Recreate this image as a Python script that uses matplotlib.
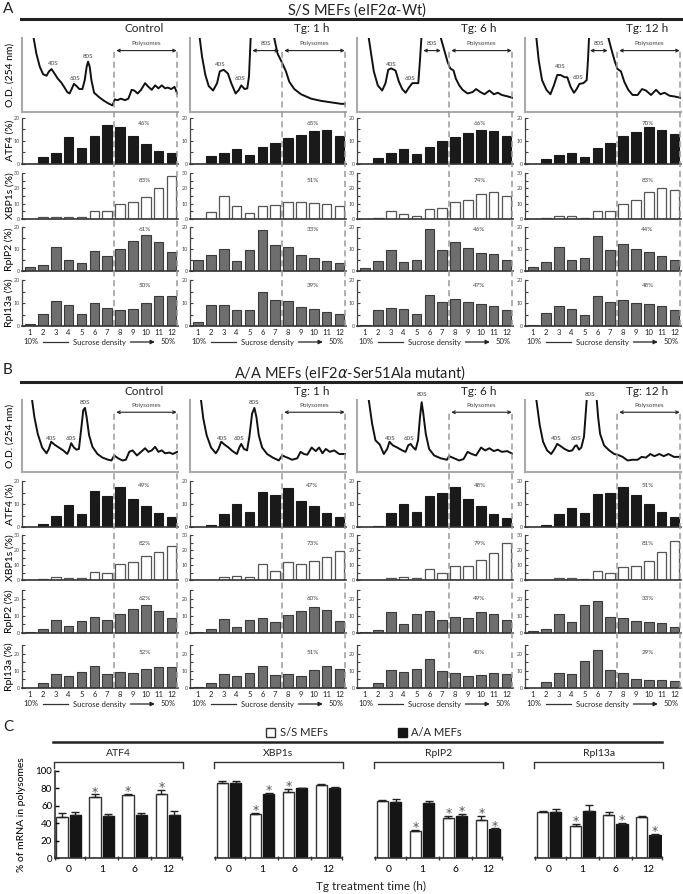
import matplotlib
matplotlib.use("Agg")
import matplotlib.pyplot as plt
import matplotlib.transforms as mtransforms
from matplotlib.lines import Line2D
from matplotlib.patches import Patch
from matplotlib.ticker import MultipleLocator
import numpy as np

plt.rcParams['font.family'] = ['Lato', 'DejaVu Sans']
plt.rcParams['mathtext.fontset'] = 'dejavusans'
plt.rcParams['text.color'] = '#222222'

W, H = 683, 894

# ---------------- data: panels A / B ----------------
fractions = np.arange(1, 13)
conditions = ["Control", "Tg: 1 h", "Tg: 6 h", "Tg: 12 h"]
genes = ["ATF4", "XBP1s", "RplP2", "Rpl13a"]

# S/S MEFs (% of mRNA per fraction)
ss_atf4 = [[0, 2.7, 4.4, 11.6, 6.6, 12.3, 16.8, 15.9, 12.0, 8.5, 5.6, 4.5],
           [0, 3.3, 4.8, 6.2, 3.9, 7.1, 9.0, 11.3, 12.6, 14.3, 14.6, 11.9],
           [0, 2.5, 4.7, 6.5, 4.1, 7.2, 10.0, 11.6, 13.2, 14.9, 14.1, 12.2],
           [0, 1.8, 3.8, 4.7, 2.8, 6.9, 9.0, 12.2, 13.8, 15.9, 14.9, 12.8]]
ss_xbp1s = [[0, 1.0, 1.5, 1.5, 1.0, 5.5, 5.0, 9.5, 11.0, 14.5, 20.0, 28.0],
            [0, 4.5, 14.7, 8.3, 3.6, 8.3, 8.9, 11.0, 10.9, 10.4, 9.8, 8.3],
            [0, 0.9, 5.3, 3.3, 1.8, 6.7, 7.3, 11.3, 12.7, 16.2, 17.6, 15.3],
            [0, 0.4, 2.0, 1.8, 0.9, 5.3, 5.1, 10.0, 12.6, 17.3, 20.5, 19.0]]
ss_rplp2 = [[1.7, 2.7, 10.8, 4.9, 3.7, 9.2, 7.0, 10.2, 13.7, 16.5, 13.4, 8.7],
            [5.0, 7.3, 9.9, 4.6, 9.5, 18.5, 11.9, 10.7, 7.3, 6.0, 4.7, 3.5],
            [1.2, 4.4, 9.6, 4.0, 5.0, 19.2, 9.6, 13.1, 10.4, 8.4, 7.8, 5.2],
            [2.0, 4.3, 10.8, 5.0, 6.1, 16.0, 9.6, 12.2, 9.9, 8.7, 6.9, 5.0]]
ss_rpl13a = [[1.0, 5.4, 10.8, 9.3, 5.3, 10.2, 8.0, 6.9, 7.3, 9.8, 13.0, 13.0],
             [1.8, 9.1, 9.1, 6.9, 6.9, 14.6, 11.2, 11.0, 8.3, 7.3, 6.0, 5.3],
             [0.6, 6.9, 7.8, 7.3, 5.1, 13.6, 10.4, 11.8, 10.4, 9.7, 8.8, 7.0],
             [0.6, 5.8, 8.5, 7.5, 4.9, 13.0, 10.6, 11.5, 9.9, 9.6, 8.5, 6.9]]
ss_pct_atf4 = [46, 65, 66, 70]
ss_pct_xbp1s = [83, 51, 74, 83]
ss_pct_rplp2 = [61, 33, 46, 44]
ss_pct_rpl13a = [50, 39, 47, 48]

# A/A MEFs
aa_atf4 = [[0, 1.2, 5.0, 9.4, 5.8, 15.8, 13.3, 17.3, 12.0, 9.1, 5.9, 4.4],
           [0, 1.0, 5.8, 9.8, 6.7, 15.3, 13.8, 17.0, 11.2, 9.0, 6.0, 4.2],
           [0, 0.6, 6.0, 9.9, 6.6, 13.6, 14.8, 17.3, 12.1, 9.3, 5.8, 3.7],
           [0, 1.0, 5.7, 8.4, 6.0, 14.3, 14.8, 17.6, 13.9, 10.1, 6.4, 4.3]]
aa_xbp1s = [[0, 0.7, 1.9, 1.4, 1.2, 5.6, 4.5, 10.4, 12.0, 16.3, 19.0, 22.6],
            [0, 0.3, 2.3, 2.9, 2.0, 11.0, 6.1, 12.2, 11.0, 12.9, 15.6, 19.2],
            [0, 0.2, 1.4, 2.0, 1.1, 7.2, 5.0, 9.5, 9.5, 13.1, 18.3, 25.0],
            [0, 0.3, 1.6, 1.4, 0.7, 6.1, 5.0, 9.0, 9.5, 12.9, 19.0, 25.7]]
aa_rplp2 = [[0.8, 2.5, 7.6, 4.2, 6.9, 9.3, 7.8, 11.0, 14.1, 16.0, 12.8, 8.8],
            [0.8, 2.3, 8.0, 3.6, 7.4, 9.0, 6.5, 10.7, 13.0, 15.2, 13.1, 7.2],
            [0.8, 2.0, 12.0, 5.3, 11.0, 12.9, 7.6, 9.4, 9.0, 12.2, 11.0, 7.5],
            [1.2, 2.6, 10.8, 6.5, 16.5, 18.8, 9.2, 8.6, 7.0, 6.3, 6.0, 3.6]]
aa_rpl13a = [[0, 2.9, 8.0, 7.0, 9.1, 12.8, 8.2, 9.3, 8.8, 11.0, 12.4, 12.0],
             [0.3, 2.9, 8.4, 6.9, 8.6, 13.0, 7.4, 8.2, 7.2, 10.5, 13.0, 11.2],
             [0, 2.9, 10.3, 9.3, 11.0, 16.7, 9.7, 8.9, 6.8, 7.4, 8.9, 8.3],
             [0, 3.3, 8.5, 8.0, 15.9, 22.1, 10.5, 8.5, 5.4, 4.7, 4.6, 3.8]]
aa_pct_atf4 = [49, 47, 48, 51]
aa_pct_xbp1s = [82, 73, 79, 81]
aa_pct_rplp2 = [62, 60, 49, 33]
aa_pct_rpl13a = [52, 51, 40, 29]

# O.D. 254 nm profiles (position along gradient in fraction units, relative absorbance)
ss_od_pos = [
    [1.2, 1.29, 1.49, 1.76, 2.02, 2.28, 2.48, 2.67, 2.9, 3.16, 3.42, 3.68, 3.89, 4.07, 4.26, 4.41, 4.62,
     4.83, 5.07, 5.25, 5.4, 5.51, 5.64, 5.77, 5.98, 6.37, 6.76, 7.15, 7.41, 7.59, 7.8, 8.06, 8.38, 8.64,
     8.9, 9.1, 9.37, 9.63, 9.94, 10.2, 10.46, 10.72, 10.98, 11.24, 11.5, 11.71, 11.97, 12.23, 12.44],
    [1.05, 1.13, 1.31, 1.57, 1.83, 2.17, 2.48, 2.69, 3.0, 3.32, 3.58, 3.92, 4.18, 4.36, 4.62, 4.83, 4.96,
     5.09, 5.2, 6.8, 6.92, 7.18, 7.49, 7.83, 8.09, 8.48, 9.0, 9.79, 10.57, 11.35, 12.13, 12.5],
    [1.2, 1.29, 1.47, 1.68, 1.99, 2.33, 2.59, 2.8, 3.03, 3.37, 3.63, 3.89, 4.15, 4.41, 4.67, 4.93, 5.14,
     5.27, 5.38, 5.5, 6.75, 6.89, 7.15, 7.41, 7.62, 7.88, 8.06, 8.32, 8.58, 8.97, 9.37, 9.63, 9.96, 10.28,
     10.67, 11.01, 11.32, 11.63, 12.1, 12.5],
    [1.15, 1.26, 1.44, 1.7, 2.04, 2.35, 2.62, 2.88, 3.14, 3.45, 3.66, 3.92, 4.18, 4.39, 4.6, 4.91, 5.17,
     5.27, 5.35, 5.45, 6.75, 6.86, 7.1, 7.36, 7.57, 7.83, 8.09, 8.4, 8.74, 9.13, 9.47, 9.78, 10.17, 10.56,
     10.9, 11.22, 11.61, 12.0, 12.5]]
ss_od_val = [
    [110, 99, 79, 61, 51, 49, 55, 58, 52, 45, 40, 33, 27, 25, 32, 38, 35, 31, 31, 43, 61, 68, 61, 43, 26,
     20, 15, 11, 9, 17, 16, 18, 16, 18, 30, 29, 25, 30, 39, 34, 30, 36, 32, 36, 32, 33, 31, 34, 25],
    [110, 100, 75, 50, 35, 29, 39, 55, 57, 52, 39, 25, 30, 36, 31, 32, 48, 100, 130, 130, 100, 79, 68, 55,
     41, 31, 24, 18, 15, 13, 11, 11],
    [110, 100, 79, 55, 36, 29, 39, 57, 59, 56, 41, 31, 26, 33, 39, 39, 39, 70, 100, 130, 130, 100, 84, 68,
     59, 56, 45, 36, 30, 25, 27, 31, 27, 24, 29, 24, 26, 23, 21, 19],
    [110, 100, 70, 43, 30, 24, 36, 50, 50, 47, 47, 34, 26, 31, 38, 39, 43, 70, 100, 130, 130, 100, 84, 68,
     58, 55, 41, 30, 23, 23, 31, 29, 23, 30, 24, 26, 22, 21, 19]]
aa_od_pos = [
    [1.1, 1.16, 1.34, 1.6, 1.94, 2.28, 2.46, 2.64, 2.9, 3.24, 3.58, 3.89, 4.02, 4.2, 4.41, 4.62, 4.8, 4.99,
     5.14, 5.27, 5.4, 5.59, 5.85, 6.24, 6.63, 7.07, 7.33, 7.54, 7.85, 8.19, 8.45, 8.71, 8.97, 9.31, 9.63,
     9.94, 10.2, 10.46, 10.72, 10.98, 11.24, 11.5, 11.84, 12.1, 12.44],
    [1.15, 1.23, 1.41, 1.67, 2.01, 2.38, 2.59, 2.8, 3.06, 3.37, 3.68, 4.02, 4.21, 4.36, 4.57, 4.81, 4.99,
     5.2, 5.38, 5.54, 5.72, 5.98, 6.37, 6.81, 7.28, 7.54, 7.93, 8.32, 8.71, 8.97, 9.23, 9.49, 9.83, 10.15,
     10.41, 10.67, 10.93, 11.24, 11.58, 11.97, 12.49],
    [1.2, 1.29, 1.55, 1.81, 2.15, 2.46, 2.72, 2.9, 3.16, 3.5, 3.89, 4.15, 4.36, 4.54, 4.75, 4.93, 5.12,
     5.27, 5.4, 5.53, 5.72, 5.98, 6.37, 6.89, 7.36, 7.54, 7.93, 8.32, 8.66, 8.97, 9.29, 9.63, 10.02, 10.33,
     10.67, 11.01, 11.32, 11.63, 12.05, 12.49],
    [1.15, 1.26, 1.52, 1.78, 2.09, 2.41, 2.67, 2.88, 3.14, 3.45, 3.79, 4.05, 4.26, 4.39, 4.57, 4.75, 4.96,
     5.17, 5.3, 5.85, 5.95, 6.06, 6.21, 6.52, 6.92, 7.31, 7.57, 7.96, 8.35, 8.74, 9.13, 9.44, 9.78, 10.12,
     10.43, 10.82, 11.16, 11.53, 11.95, 12.39, 12.5]]
aa_od_val = [
    [110, 100, 76, 53, 34, 26, 32, 42, 38, 34, 30, 25, 30, 40, 34, 31, 32, 62, 86, 89, 76, 51, 35, 25, 20,
     17, 16, 23, 19, 16, 17, 28, 30, 23, 28, 33, 28, 30, 35, 28, 30, 26, 27, 25, 28],
    [110, 100, 74, 51, 34, 26, 32, 42, 38, 34, 29, 25, 34, 39, 32, 30, 49, 81, 89, 76, 51, 34, 25, 20, 16,
     23, 20, 17, 19, 28, 25, 24, 34, 29, 34, 26, 32, 28, 30, 25, 25],
    [110, 100, 67, 44, 38, 25, 32, 42, 37, 34, 30, 28, 37, 39, 34, 31, 44, 76, 97, 81, 53, 32, 23, 19, 17,
     22, 19, 16, 18, 28, 25, 23, 34, 30, 33, 29, 31, 28, 29, 25],
    [110, 100, 65, 42, 30, 25, 32, 39, 36, 32, 29, 30, 36, 37, 31, 34, 49, 100, 130, 130, 100, 76, 53, 37,
     30, 25, 24, 21, 16, 17, 17, 21, 20, 25, 22, 25, 22, 25, 21, 21, 21]]

# peak labels (name, position, height) and 80S arrow spans
ss_peaks = [[("40S", 2.8, 66), ("60S", 4.47, 45), ("80S", 5.51, 75)],
            [("40S", 2.72, 64), ("60S", 4.26, 45)],
            [("40S", 3.06, 64), ("60S", 4.49, 45)],
            [("40S", 3.14, 61), ("60S", 4.52, 46)]]
ss_80s_span = [None, (5.22, 7.3), (5.53, 6.89), (5.43, 6.8)]
aa_peaks = [[("40S", 2.64, 46), ("60S", 4.2, 46), ("80S", 5.27, 96)],
            [("40S", 2.85, 46), ("60S", 4.21, 46), ("80S", 5.33, 96)],
            [("40S", 2.98, 47), ("60S", 4.41, 47), ("80S", 5.4, 107)],
            [("40S", 2.82, 47), ("60S", 4.31, 47), ("80S", 5.43, 107)]]
aa_80s_span = [None, None, None, None]

# ---------------- data: panel C ----------------
c_groups = ["ATF4", "XBP1s", "RplP2", "Rpl13a"]
c_times = ["0", "1", "6", "12"]
c_ss_mean = [[47, 70, 72, 73], [86, 51, 76, 84], [65, 31, 46, 44], [53, 37, 50, 47]]
c_ss_err = [[4.5, 3, 2, 5.5], [2.5, 1, 3.5, 1], [2, 1.5, 2.7, 4.6], [1, 2.3, 2.7, 1.5]]
c_aa_mean = [[49.5, 48, 49, 49.5], [86, 74, 80, 80.5], [64, 63, 48, 33], [53, 54, 39, 26]]
c_aa_err = [[3, 2.3, 3, 4.6], [3, 1, 1, 1], [3.8, 2.7, 3, 1], [3.4, 7, 1.2, 2]]
c_ss_star = [[0, 1, 1, 1], [0, 1, 1, 0], [0, 1, 1, 1], [0, 1, 0, 0]]
c_aa_star = [[0, 0, 0, 0], [0, 1, 0, 0], [0, 0, 1, 1], [0, 0, 1, 1]]

# ---------------- figure ----------------
fig = plt.figure(figsize=(W / 100, H / 100), dpi=100)


def add_ax(left, top, right, bottom):
    return fig.add_axes([left / W, 1 - bottom / H, (right - left) / W, (bottom - top) / H])


def fig_text(x, y, s, **kw):
    return fig.text(x / W, 1 - y / H, s, **kw)


def fig_hline(x0, x1, y, **kw):
    fig.add_artist(Line2D([x0 / W, x1 / W], [1 - y / H] * 2, transform=fig.transFigure, **kw))


col_left = [22, 190, 357, 525]
col_w = 156
x_lo, x_hi = 0.375, 12.5
poly_start, poly_end = 7.55, 12.45
bar_styles = [dict(facecolor='#1a1a1a', edgecolor='#1a1a1a', linewidth=0.8),
              dict(facecolor='white', edgecolor='#555555', linewidth=0.9),
              dict(facecolor='#6e6e6e', edgecolor='#3a3a3a', linewidth=0.8),
              dict(facecolor='#6e6e6e', edgecolor='#3a3a3a', linewidth=0.8)]
small = dict(fontsize=4.5, color='#444444', ha='center', va='center')


def draw_block(prof_px, rows_px, ylims, pct_y, od_pos, od_val, peaks, spans80, bars, pcts, title_y):
    arrow_kw = dict(arrowstyle='<->', color='#222222', lw=0.8, shrinkA=0, shrinkB=0, mutation_scale=5)
    for c in range(4):
        left = col_left[c]
        right = left + col_w
        fig_text(left + 122, title_y, conditions[c], ha='center', va='center', fontsize=8.5)

        axp = add_ax(left, prof_px[0], right, prof_px[1])
        axp.plot(od_pos[c], od_val[c], color='#111111', lw=1.4, solid_joinstyle='round')
        axp.set_xlim(x_lo, x_hi)
        axp.set_ylim(0, 100)
        axp.set_xticks([])
        axp.set_yticks([])
        axp.spines[['top', 'right']].set_visible(False)
        for s in ('left', 'bottom'):
            axp.spines[s].set_color('#aaaaaa')
            axp.spines[s].set_linewidth(1.5)
        for name, px, py in peaks[c]:
            axp.text(px, py, name, **small)
        axp.annotate('', xy=(12.4, 83), xytext=(7.7, 83), arrowprops=arrow_kw, annotation_clip=False)
        axp.text(10.05, 92, 'Polysomes', **small)
        if spans80[c] is not None:
            a0, a1 = spans80[c]
            axp.annotate('', xy=(a1, 83), xytext=(a0, 83), arrowprops=arrow_kw, annotation_clip=False)
            axp.text((a0 + a1) / 2, 93, '80S', **small)
        if c == 0:
            axp.set_ylabel('O.D. (254 nm)', fontsize=7.5)
            axp.yaxis.set_label_coords(-0.05, 0.5)

        last = None
        for r in range(4):
            ax = add_ax(left, rows_px[r][0], right, rows_px[r][1])
            ax.bar(fractions, bars[r][c], width=0.74, **bar_styles[r])
            ax.set_xlim(x_lo, x_hi)
            ax.set_ylim(0, ylims[r])
            ax.spines[['top', 'right']].set_visible(False)
            ax.spines['left'].set_color('#444444')
            ax.spines['left'].set_linewidth(0.9)
            ax.spines['bottom'].set_color('#333333')
            ax.spines['bottom'].set_linewidth(1.2)
            ax.set_yticks(np.arange(0, ylims[r] + 1, 10))
            ax.yaxis.set_minor_locator(MultipleLocator(5))
            ax.tick_params(axis='y', which='both', direction='in', length=2.5, width=0.8,
                           colors='#444444', labelsize=3.8, pad=1.5)
            ax.tick_params(axis='y', which='minor', length=2)
            bt = mtransforms.blended_transform_factory(ax.transData, ax.transAxes)
            ax.text(9.9, pct_y[r], f"{pcts[r][c]}%", transform=bt, **small)
            if c == 0:
                ax.set_ylabel(f"{genes[r]} (%)", fontsize=7.5)
                ax.yaxis.set_label_coords(-0.05, 0.5)
            if r < 3:
                ax.set_xticks([])
            else:
                ax.set_xticks(fractions)
                ax.tick_params(axis='x', length=0, labelsize=5.5, pad=2, colors='#222222')
                yy = -16 / (rows_px[r][1] - rows_px[r][0])
                txt = dict(transform=bt, ha='center', va='center', fontsize=5.5)
                ax.text(1.08, yy, '10%', **txt)
                ax.plot([2.0, 3.95], [yy, yy], transform=bt, color='#333333', lw=0.9, clip_on=False)
                ax.text(6.4, yy, 'Sucrose density', **txt)
                ax.annotate('', xy=(10.7, yy), xytext=(8.8, yy), xycoords=bt,
                            arrowprops=dict(arrowstyle='-|>', color='#222222', lw=0.9,
                                            mutation_scale=6, shrinkA=0, shrinkB=0))
                ax.text(11.76, yy, '50%', **txt)
            last = ax

        blend = mtransforms.blended_transform_factory(axp.transData, fig.transFigure)
        pp = axp.get_position()
        y_top = pp.y0 + 0.83 * pp.height
        y_bot = last.get_position().y0
        for xd in (poly_start, poly_end):
            fig.add_artist(Line2D([xd, xd], [y_bot, y_top], transform=blend, ls=(0, (4, 2.5)),
                                  color='#9a9a9a', lw=1.1))


# panel A
fig_text(3, 9, 'A', fontsize=11, ha='left', va='center')
fig_text(357, 10, 'S/S MEFs (eIF2$\\alpha$-Wt)', fontsize=10.5, ha='center', va='center')
fig_hline(21, 683, 19, color='#222222', lw=2.2)
draw_block((38, 112), [(118, 163.5), (173, 219), (227, 271), (280, 326)], [20, 30, 20, 20],
           [0.89, 0.83, 0.95, 0.89], ss_od_pos, ss_od_val, ss_peaks, ss_80s_span,
           [ss_atf4, ss_xbp1s, ss_rplp2, ss_rpl13a],
           [ss_pct_atf4, ss_pct_xbp1s, ss_pct_rplp2, ss_pct_rpl13a], 29)

# panel B
fig_text(3, 370, 'B', fontsize=11, ha='left', va='center')
fig_text(350, 373, 'A/A MEFs (eIF2$\\alpha$-Ser51Ala mutant)', fontsize=10.5, ha='center', va='center')
fig_hline(21, 683, 382, color='#222222', lw=2.2)
draw_block((400, 472), [(481, 527), (535, 580), (590, 633), (645, 688)], [20, 30, 25, 25],
           [0.91, 0.82, 0.81, 0.82], aa_od_pos, aa_od_val, aa_peaks, aa_80s_span,
           [aa_atf4, aa_xbp1s, aa_rplp2, aa_rpl13a],
           [aa_pct_atf4, aa_pct_xbp1s, aa_pct_rplp2, aa_pct_rpl13a], 392)

# panel C
fig_text(3, 727, 'C', fontsize=11, ha='left', va='center')
fig_hline(53, 662, 742, color='#222222', lw=1.8)
axc = add_ax(55, 771, 662, 858)
gap = 4.85
bw = 0.35
star_kw = dict(ha='center', va='baseline', fontsize=9, color='#555555', family='DejaVu Sans')
for g in range(4):
    xs = np.arange(4) + g * gap
    axc.bar(xs - 0.2, c_ss_mean[g], width=bw, facecolor='white', edgecolor='#333333', lw=1)
    axc.bar(xs + 0.2, c_aa_mean[g], width=bw, facecolor='#151515', edgecolor='#151515', lw=1)
    axc.errorbar(xs - 0.2, c_ss_mean[g], yerr=[np.zeros(4), c_ss_err[g]], fmt='none',
                 ecolor='#222222', elinewidth=1, capsize=3, capthick=1)
    axc.errorbar(xs + 0.2, c_aa_mean[g], yerr=[np.zeros(4), c_aa_err[g]], fmt='none',
                 ecolor='#222222', elinewidth=1, capsize=3, capthick=1)
    for i in range(4):
        if c_ss_star[g][i]:
            axc.text(xs[i] - 0.2, c_ss_mean[g][i] + c_ss_err[g][i] - 1.5, '*', **star_kw)
        if c_aa_star[g][i]:
            axc.text(xs[i] + 0.2, c_aa_mean[g][i] + c_aa_err[g][i] - 1.5, '*', **star_kw)
    # broken x axis segment with small ticks
    x0, x1 = g * gap - 0.42, g * gap + 3.42
    axc.plot([x0, x1], [0, 0], color='#333333', lw=1.2, clip_on=False)
    axc.plot(g * gap + np.array([-0.42, 0.5, 1.5, 2.5, 3.42]), np.zeros(5), ls='none', marker='|',
             ms=3, mew=1, color='#333333', clip_on=False)
    # bracket and group name
    bl = mtransforms.blended_transform_factory(axc.transData, fig.transFigure)
    yt, yb = 1 - 762 / H, 1 - 768 / H
    fig.add_artist(Line2D([g * gap - 0.45, g * gap - 0.45, g * gap + 3.45, g * gap + 3.45],
                          [yb, yt, yt, yb], transform=bl, color='#333333', lw=1))
    axc.text(g * gap + 1.5, 1 - 754 / H, c_groups[g], transform=bl, ha='center', va='center',
             fontsize=7.5)

axc.set_xlim(-0.42, 3 * gap + 3.42)
axc.set_ylim(0, 100)
axc.set_xticks([g * gap + i for g in range(4) for i in range(4)])
axc.set_xticklabels(c_times * 4)
axc.tick_params(axis='x', length=0, pad=5, labelsize=7.5)
axc.set_yticks(np.arange(0, 101, 20))
axc.tick_params(axis='y', direction='in', length=3, width=1, labelsize=7, pad=2)
axc.spines[['top', 'right', 'bottom']].set_visible(False)
axc.spines['left'].set_color('#333333')
axc.spines['left'].set_linewidth(1.2)
axc.set_ylabel('% of mRNA in polysomes', fontsize=7.5)
axc.yaxis.set_label_coords(-0.048, 0.5)
fig_text(371, 886, 'Tg treatment time (h)', fontsize=8.5, ha='center', va='center')

handles = [Patch(facecolor='white', edgecolor='#333333'), Patch(facecolor='#151515', edgecolor='#151515')]
fig.legend(handles, ['S/S MEFs', 'A/A MEFs'], ncol=2, frameon=False, loc='center',
           bbox_to_anchor=(364 / W, 1 - 733 / H), fontsize=8, handlelength=0.8, handleheight=0.8,
           handletextpad=0.4, columnspacing=6.3)

fig.savefig('out.png', dpi=100)
